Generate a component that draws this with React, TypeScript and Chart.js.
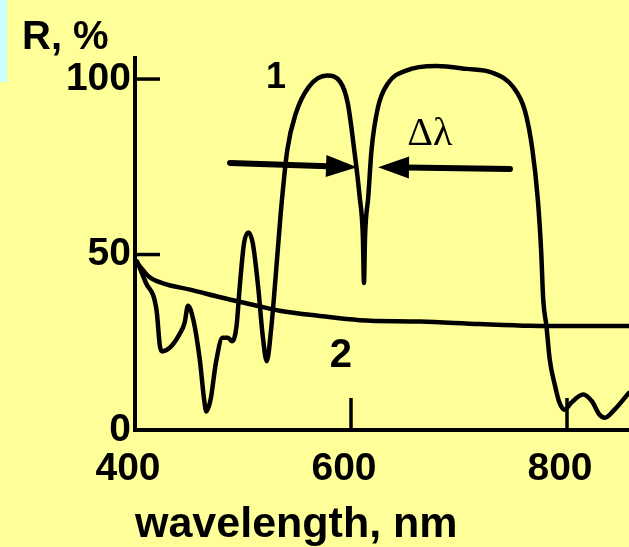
import React, { useEffect, useRef } from "react";
import { Chart, registerables } from "chart.js";

Chart.register(...registerables);

// ---- data ----
const curve1Wavelengths = [
  402, 410, 420, 423, 425, 432, 441, 446, 449, 454, 460, 464, 466, 470, 475, 481,
  486, 490, 494, 497, 501, 505, 509, 514, 518, 522, 526, 530, 535, 541, 549, 561,
  578, 590, 597, 603, 608, 611, 612, 613, 616, 619, 625, 634, 651, 679, 707, 731,
  750, 761, 768, 773, 776, 778, 781, 784, 789, 793, 798, 804, 815, 823, 830, 835,
  844, 857,
];
const curve1Reflectance = [
  48, 42, 34, 24, 22.4, 23.4, 27.2, 30.6, 35.4, 31.4, 20, 8.7, 5.3, 8.7, 19.3, 26.3,
  26.3, 25.3, 29.6, 40.9, 53.3, 56.3, 53.3, 40.9, 27.6, 19.6, 28.6, 42.8, 62, 79.8, 90.3, 97.8,
  101, 99.2, 93.1, 79.8, 66.5, 55.1, 41.9, 55.1, 66.5, 79.8, 92, 98.7, 102.4, 103.7, 102.9, 101.8,
  97.8, 91, 79.8, 65.6, 51.4, 37.1, 29.5, 20.1, 12.5, 7.8, 5.8, 7.8, 10.1, 8.2, 4.4, 3.5,
  5.8, 10.5,
];
const curve2Wavelengths = [400, 402, 413, 426, 451, 482, 513, 534, 571, 608, 664, 719, 766, 810, 858];
const curve2Reflectance = [48, 47.5, 43.7, 41.8, 40, 37.6, 35.4, 34, 32.5, 31.3, 30.9, 30.2, 29.7, 29.6, 29.6];

const xTickValues = [400, 600, 800];
const yTickValues = [0, 50, 100];
const xMin = 400;
const xMax = 857.4;
const yMin = 0;
const yMax = 106;

const xTitle = "wavelength, nm";
const yTitle = "R, %";
const curveNames = ["1", "2"];
const widthLabel = "Δλ";

// annotation anchors in data units (wavelength, R)
const curveNameAnchors: [number, number][] = [
  [530.6, 97.4],
  [590.7, 17.9],
];
const widthLabelAnchor: [number, number] = [673, 81.2];
const leftArrow: [number, number, number, number] = [488, 76.1, 605.6, 74.9];
const rightArrow: [number, number, number, number] = [747.2, 74.4, 625, 74.9];

const SANS = "'Liberation Sans', Arial, Helvetica, sans-serif";
const SERIF = "'Liberation Serif', 'Times New Roman', serif";

export default function App() {
  const canvasRef = useRef<HTMLCanvasElement>(null);

  useEffect(() => {
    const canvas = canvasRef.current;
    if (!canvas) return;

    const background = {
      id: "slideBackground",
      beforeDraw(chart: any) {
        const ctx = chart.ctx;
        ctx.save();
        ctx.fillStyle = "#FFFF99";
        ctx.fillRect(0, 0, chart.width, chart.height);
        ctx.fillStyle = "#CCFFFF";
        ctx.fillRect(0, 0, 7, 82);
        ctx.restore();
      },
    };

    const innerTicks = {
      id: "innerTicks",
      afterDraw(chart: any) {
        const ctx = chart.ctx;
        const xs = chart.scales.x;
        const ys = chart.scales.y;
        const area = chart.chartArea;
        ctx.save();
        ctx.strokeStyle = "#000";
        ctx.lineWidth = 3.5;
        ctx.lineCap = "butt";
        xs.ticks.forEach((t: any) => {
          if (t.value === xMin) return;
          const px = xs.getPixelForValue(t.value);
          ctx.beginPath();
          ctx.moveTo(px, area.bottom + 2);
          ctx.lineTo(px, area.bottom - 32);
          ctx.stroke();
        });
        ys.ticks.forEach((t: any) => {
          if (t.value === yMin) return;
          const py = ys.getPixelForValue(t.value);
          ctx.beginPath();
          ctx.moveTo(area.left, py);
          ctx.lineTo(area.left + 25, py);
          ctx.stroke();
        });
        ctx.restore();
      },
    };

    const annotations = {
      id: "annotations",
      afterDraw(chart: any) {
        const ctx = chart.ctx;
        const xs = chart.scales.x;
        const ys = chart.scales.y;
        const px = (v: number) => xs.getPixelForValue(v);
        const py = (v: number) => ys.getPixelForValue(v);
        ctx.save();
        ctx.fillStyle = "#000";
        ctx.strokeStyle = "#000";
        ctx.textAlign = "center";
        ctx.textBaseline = "alphabetic";
        ctx.font = `bold 36px ${SANS}`;
        ctx.fillText(curveNames[0], px(curveNameAnchors[0][0]), py(curveNameAnchors[0][1]));
        ctx.font = `bold 40px ${SANS}`;
        ctx.fillText(curveNames[1], px(curveNameAnchors[1][0]), py(curveNameAnchors[1][1]));
        ctx.font = `40px ${SERIF}`;
        ctx.fillText(widthLabel, px(widthLabelAnchor[0]), py(widthLabelAnchor[1]));

        const arrow = (a: [number, number, number, number]) => {
          const x0 = px(a[0]), y0 = py(a[1]), x1 = px(a[2]), y1 = py(a[3]);
          const ang = Math.atan2(y1 - y0, x1 - x0);
          const headLen = 31;
          const headHalf = 11;
          const bx = x1 - headLen * Math.cos(ang);
          const by = y1 - headLen * Math.sin(ang);
          ctx.lineWidth = 6;
          ctx.lineCap = "round";
          ctx.beginPath();
          ctx.moveTo(x0, y0);
          ctx.lineTo(bx + 2 * Math.cos(ang), by + 2 * Math.sin(ang));
          ctx.stroke();
          ctx.beginPath();
          ctx.moveTo(x1, y1);
          ctx.lineTo(bx + headHalf * Math.sin(ang), by - headHalf * Math.cos(ang));
          ctx.lineTo(bx - headHalf * Math.sin(ang), by + headHalf * Math.cos(ang));
          ctx.closePath();
          ctx.fill();
        };
        arrow(leftArrow);
        arrow(rightArrow);
        ctx.restore();
      },
    };

    const toPoints = (xsArr: number[], ysArr: number[]) =>
      xsArr.map((x, i) => ({ x, y: ysArr[i] }));

    const chart = new Chart(canvas, {
      type: "line",
      data: {
        datasets: [
          {
            label: curveNames[0],
            data: toPoints(curve1Wavelengths, curve1Reflectance),
            borderColor: "#000",
            borderWidth: 4.5,
            borderJoinStyle: "round",
            borderCapStyle: "round",
            pointRadius: 0,
            cubicInterpolationMode: "monotone",
            fill: false,
          },
          {
            label: curveNames[1],
            data: toPoints(curve2Wavelengths, curve2Reflectance),
            borderColor: "#000",
            borderWidth: 4.5,
            borderJoinStyle: "round",
            borderCapStyle: "round",
            pointRadius: 0,
            cubicInterpolationMode: "monotone",
            fill: false,
          },
        ],
      },
      options: {
        responsive: false,
        animation: false,
        devicePixelRatio: 1,
        layout: { padding: { left: 22, top: 0, right: 0, bottom: 0 } },
        plugins: {
          legend: { display: false },
          tooltip: { enabled: false },
          title: {
            display: true,
            text: yTitle,
            align: "start",
            color: "#000",
            font: { family: SANS, size: 40, weight: "bold", lineHeight: 1 },
            padding: { top: 18, bottom: 0 },
          },
        },
        scales: {
          x: {
            type: "linear",
            min: xMin,
            max: xMax,
            afterBuildTicks: (scale: any) => {
              scale.ticks = xTickValues.map((v) => ({ value: v }));
            },
            afterFit: (scale: any) => {
              scale.height = 117;
            },
            grid: { display: true, drawOnChartArea: false, drawTicks: false },
            border: { display: true, color: "#000", width: 4 },
            ticks: {
              color: "#000",
              font: { family: SANS, size: 39, weight: "bold" },
              padding: 16,
              labelOffset: -7,
              maxRotation: 0,
              autoSkip: false,
            },
            title: {
              display: true,
              text: xTitle,
              align: "start",
              color: "#000",
              font: { family: SANS, size: 43, weight: "bold", lineHeight: 1 },
              padding: { top: 0, bottom: 0 },
            },
          },
          y: {
            type: "linear",
            min: yMin,
            max: yMax,
            afterBuildTicks: (scale: any) => {
              scale.ticks = yTickValues.map((v) => ({ value: v }));
            },
            afterFit: (scale: any) => {
              scale.width = 135 - 22;
            },
            grid: { display: true, drawOnChartArea: false, drawTicks: false },
            border: { display: true, color: "#000", width: 4 },
            ticks: {
              color: "#000",
              font: { family: SANS, size: 39, weight: "bold" },
              padding: 4,
              autoSkip: false,
            },
          },
        },
      },
      plugins: [background, innerTicks, annotations],
    } as any);

    return () => chart.destroy();
  }, []);

  return (
    <canvas
      ref={canvasRef}
      width={629}
      height={547}
      style={{ position: "absolute", left: 0, top: 0, display: "block", width: 629, height: 547 }}
    />
  );
}
